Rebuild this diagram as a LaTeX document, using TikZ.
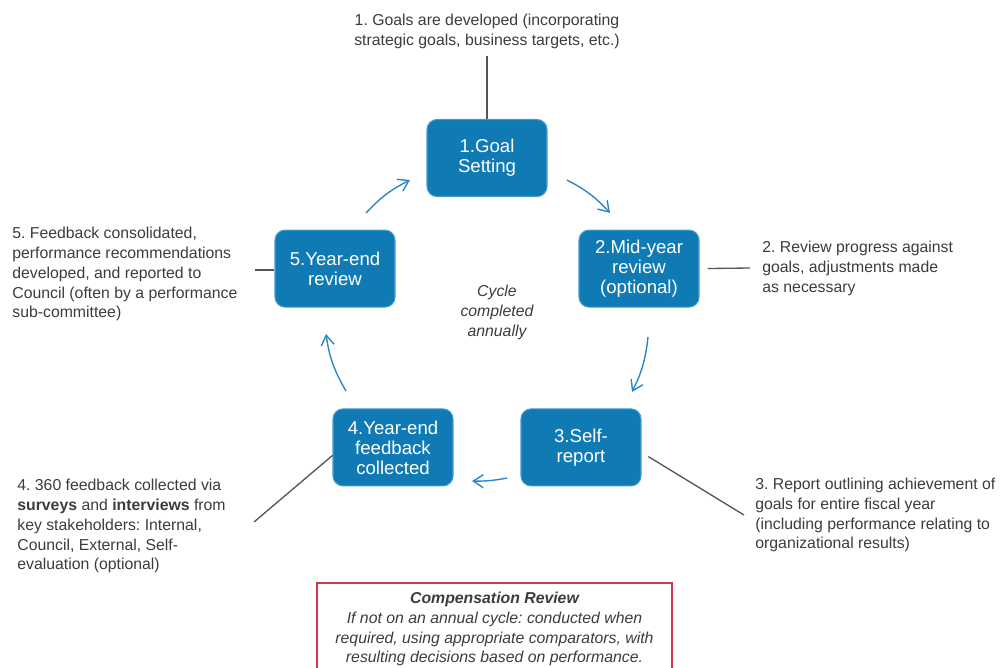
\documentclass[tikz,border=0pt]{standalone}
\usepackage{fontspec}
\setmainfont{Liberation Sans}
\usetikzlibrary{arrows.meta}
\frenchspacing
\definecolor{boxblue}{RGB}{16,122,180}
\definecolor{boxedge}{RGB}{70,155,205}
\definecolor{arrowblue}{RGB}{45,135,195}
\definecolor{leadgray}{RGB}{85,85,85}
\definecolor{textgray}{RGB}{60,60,60}
\definecolor{compred}{RGB}{205,55,80}
\tikzset{
  stage/.style={draw=boxedge,line width=0.6pt,fill=boxblue,rounded corners=0.2cm,
    minimum width=2.4cm,minimum height=1.54cm,inner sep=0pt,text=white,align=center,
    font=\fontsize{10.6}{11.4}\selectfont},
  note/.style={inner sep=0pt,text=textgray,align=left,font=\fontsize{9}{11.34}\selectfont},
  lead/.style={draw=leadgray,line width=0.75pt},
  cycarrow/.style={draw=arrowblue,line width=0.8pt,-{Straight Barb[length=0.2cm,width=0.26cm]}}
}
\begin{document}
\begin{tikzpicture}[x=0.02cm,y=-0.02cm]
  \useasboundingbox (0,0) rectangle (1004,667);
  \clip (0,0) rectangle (1004,667);
  %% stages of the cycle
  \node[stage] (g1) at (487,158) {1.Goal\\Setting};
  \node[stage] (g2) at (639,268.6) {2.Mid-year\\review\\(optional)};
  \node[stage] (g3) at (581,447.4) {3.Self-\\report};
  \node[stage] (g4) at (393,447.4) {4.Year-end\\feedback\\collected};
  \node[stage] (g5) at (335,268.6) {5.Year-end\\review};
  \node[note,align=center,font=\fontsize{9}{11.34}\selectfont\itshape] (yr) at (497,312) {Cycle\\completed\\annually};
  %% arrows round the cycle
  \coordinate (a1) at (567,180); \coordinate (b1) at (610,213);
  \coordinate (a2) at (648,337); \coordinate (b2) at (632,392);
  \coordinate (a3) at (507,478); \coordinate (b3) at (472,481);
  \coordinate (a4) at (346,391); \coordinate (b4) at (326,334);
  \coordinate (a5) at (366,213); \coordinate (b5) at (410,180);
  \draw[cycarrow] (a1) to[bend left=10] (b1);
  \draw[cycarrow] (a2) to[bend left=10] (b2);
  \draw[cycarrow] (a3) to[bend left=6] (b3);
  \draw[cycarrow] (a4) to[bend left=11] (b4);
  \draw[cycarrow] (a5) to[bend left=10] (b5);
  %% notes
  \node[note,align=center] (t1) at (487,31) {1. Goals are developed (incorporating\\strategic goals, business targets, etc.)};
  \node[note,anchor=west] (t2) at (762,268) {2. Review progress against\\goals, adjustments made\\as necessary};
  \node[note,anchor=west] (t3) at (755,515) {3. Report outlining achievement of\\goals for entire fiscal year\\(including performance relating to\\organizational results)};
  \node[note,anchor=west] (t4) at (17,526) {4. 360 feedback collected via\\\textbf{surveys} and \textbf{interviews} from\\key stakeholders: Internal,\\Council, External, Self-\\evaluation (optional)};
  \node[note,anchor=west] (t5) at (12,274) {5. Feedback consolidated,\\performance recommendations\\developed, and reported to\\Council (often by a performance\\sub-committee)};
  %% lead lines
  \coordinate (l2) at (750,268);
  \coordinate (l3) at (744,515);
  \coordinate (l4) at (254,522);
  \coordinate (l5) at (255,270);
  \draw[lead,shorten <=0.14cm] (t1.south) -- (g1.north);
  \draw[lead,shorten <=0.16cm] (g2.east) -- (l2);
  \draw[lead,shorten <=0.16cm] ([yshift=-0.1cm]g3.east) -- (l3);
  \draw[lead] (l4) -- ([yshift=-0.16cm]g4.west);
  \draw[lead] (l5) -- (l5 -| g5.west);
  %% compensation box
  \node[draw=compred,line width=1.1pt,minimum width=7.1cm,minimum height=1.84cm,anchor=north,
    align=center,text=textgray,font=\fontsize{9}{11.34}\selectfont\itshape] (comp) at (494.5,582)
    {\textbf{Compensation Review}\\If not on an annual cycle: conducted when\\required, using appropriate comparators, with\\resulting decisions based on performance.};
\end{tikzpicture}
\end{document}
